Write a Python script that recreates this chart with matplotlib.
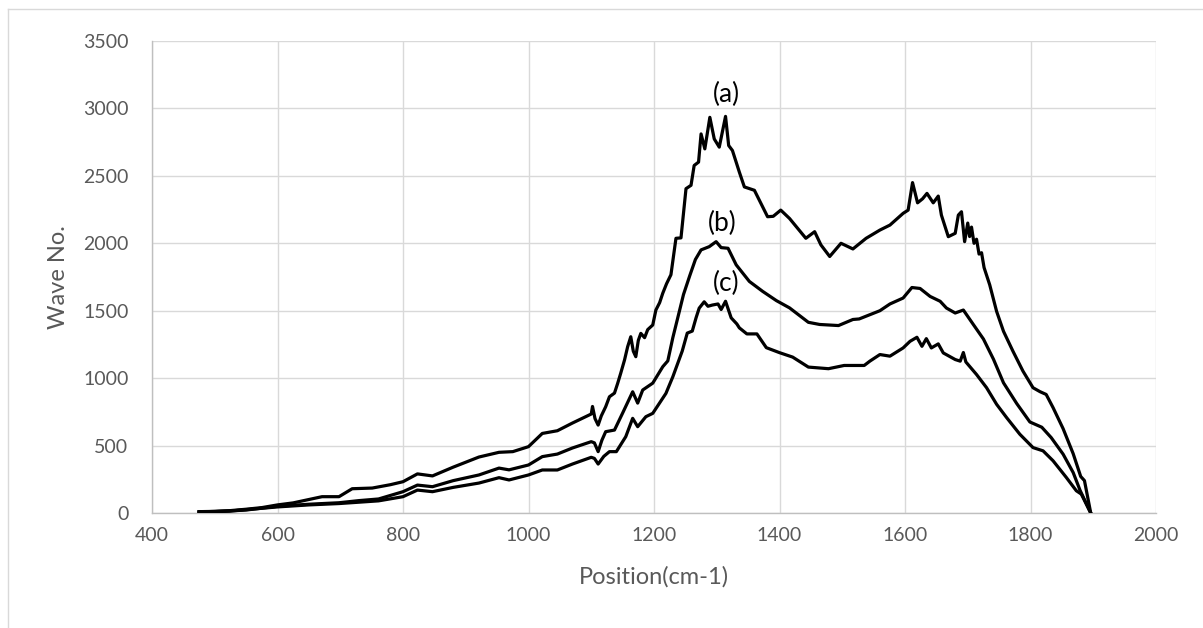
import matplotlib
matplotlib.use("Agg")
import matplotlib.pyplot as plt
from matplotlib.lines import Line2D

# ---------------- data ----------------
a_x = [475, 500, 523, 550, 575, 600, 625, 650, 671, 698, 719, 751, 780, 800, 823, 847, 880, 921, 953, 975,
       1000, 1022, 1046, 1070, 1100, 1102, 1106, 1111, 1116, 1123, 1129, 1137, 1142, 1147, 1153, 1158, 1163,
       1167, 1171, 1175, 1179, 1185, 1190, 1198, 1203, 1209, 1214, 1220, 1227, 1235, 1243, 1251, 1259, 1264,
       1271, 1275, 1281, 1289, 1296, 1304, 1314, 1319, 1325, 1336, 1344, 1360, 1381, 1390, 1402, 1416, 1442,
       1456, 1466, 1480, 1498, 1517, 1538, 1560, 1576, 1597, 1605, 1612, 1620, 1628, 1635, 1645, 1653, 1658,
       1669, 1680, 1685, 1690, 1695, 1700, 1703, 1706, 1710, 1714, 1718, 1722, 1726, 1735, 1746, 1757, 1772,
       1788, 1804, 1815, 1825, 1836, 1852, 1868, 1880, 1886, 1896]
a_y = [10, 12, 17, 28, 40, 60, 75, 100, 121, 121, 180, 185, 210, 232, 290, 275, 340, 415, 450, 455,
       492, 590, 610, 667, 734, 790, 700, 652, 720, 788, 862, 889, 960, 1037, 1134, 1233, 1307,
       1200, 1159, 1280, 1332, 1300, 1360, 1394, 1505, 1560, 1630, 1700, 1767, 2037, 2040, 2405, 2430, 2577,
       2602, 2811, 2700, 2934, 2774, 2713, 2941, 2725, 2688, 2528, 2418, 2393, 2197, 2200, 2246, 2184, 2037,
       2086, 1988, 1902, 2000, 1958, 2037, 2098, 2135, 2222, 2246, 2450, 2300, 2330, 2370, 2300, 2350, 2209,
       2049, 2074, 2209, 2234, 2012, 2150, 2050, 2120, 2000, 2030, 1920, 1930, 1820, 1692, 1495, 1347, 1200,
       1052, 929, 900, 879, 781, 625, 440, 271, 240, 0]

b_x = [475, 523, 550, 600, 650, 698, 730, 761, 800, 823, 847, 880, 921, 953, 969, 1000, 1022, 1046, 1070,
       1100, 1105, 1111, 1117, 1123, 1137, 1150, 1166, 1174, 1182, 1198, 1214, 1222, 1230, 1238, 1247, 1257,
       1266, 1275, 1288, 1299, 1307, 1318, 1331, 1352, 1373, 1395, 1416, 1446, 1464, 1494, 1517, 1527, 1560,
       1576, 1597, 1611, 1624, 1640, 1656, 1666, 1680, 1693, 1709, 1725, 1741, 1757, 1778, 1799, 1818, 1833,
       1852, 1868, 1879, 1896]
b_y = [8, 15, 22, 50, 65, 76, 92, 104, 158, 207, 195, 240, 282, 333, 320, 356, 418, 437, 482,
       529, 520, 455, 540, 603, 615, 741, 899, 815, 912, 963, 1085, 1128, 1300, 1450, 1620, 1760,
       1880, 1951, 1975, 2012, 1968, 1963, 1840, 1717, 1644, 1575, 1521, 1414, 1398, 1390, 1435, 1439, 1500,
       1550, 1594, 1672, 1665, 1606, 1570, 1520, 1483, 1505, 1397, 1290, 1140, 965, 812, 675, 636, 559,
       436, 300, 168, 0]

c_x = [475, 523, 600, 650, 698, 761, 800, 823, 847, 880, 921, 953, 969, 1000, 1022, 1046, 1070, 1100, 1105,
       1111, 1120, 1129, 1140, 1155, 1166, 1174, 1187, 1198, 1219, 1230, 1245, 1253, 1261, 1267, 1272, 1280,
       1286, 1293, 1302, 1307, 1314, 1323, 1332, 1336, 1348, 1364, 1379, 1400, 1421, 1446, 1478, 1503, 1535,
       1544, 1560, 1576, 1597, 1608, 1619, 1627, 1634, 1642, 1653, 1661, 1680, 1688, 1693, 1697, 1714, 1730,
       1746, 1762, 1783, 1804, 1820, 1836, 1857, 1873, 1881, 1896]
c_y = [6, 14, 45, 60, 70, 90, 121, 170, 158, 190, 222, 262, 245, 282, 319, 319, 363, 413, 405,
       363, 420, 455, 455, 566, 702, 640, 714, 739, 887, 1010, 1201, 1334, 1349, 1447, 1519, 1566,
       1533, 1542, 1550, 1509, 1570, 1447, 1402, 1373, 1328, 1328, 1226, 1189, 1156, 1082, 1070, 1094, 1094,
       1126, 1175, 1163, 1224, 1273, 1303, 1236, 1293, 1224, 1254, 1187, 1138, 1126, 1190, 1120, 1027, 929,
       806, 707, 584, 485, 461, 387, 264, 165, 140, 0]

series_labels = ["(a)", "(b)", "(c)"]
label_x = [1315, 1309, 1315]
label_y = [3100, 2150, 1700]

x_ticks = [400, 600, 800, 1000, 1200, 1400, 1600, 1800, 2000]
y_ticks = [0, 500, 1000, 1500, 2000, 2500, 3000, 3500]
x_title = "Position(cm-1)"
y_title = "Wave No."

# ---------------- figure ----------------
W, H = 1203, 628
fig = plt.figure(figsize=(W / 100, H / 100), dpi=100)
fig.patch.set_facecolor("white")
plt.rcParams['font.family'] = ['Lato', 'DejaVu Sans']

ax = fig.add_axes([152 / W, 1 - 513 / H, (1156 - 152) / W, (513 - 41) / H])
ax.set_xlim(400, 2000)
ax.set_ylim(0, 3500)
ax.set_xticks(x_ticks)
ax.set_yticks(y_ticks)
ax.grid(True, color="#d9d9d9", linewidth=1.0)
ax.set_axisbelow(True)
for s in ["top", "right"]:
    ax.spines[s].set_visible(False)
for s in ["left", "bottom"]:
    ax.spines[s].set_color("#bfbfbf")
    ax.spines[s].set_linewidth(1.0)
ax.tick_params(length=0, labelsize=14, labelcolor="#595959")
ax.tick_params(axis="y", pad=17)
ax.tick_params(axis="x", pad=10)

for xs, ys in [(a_x, a_y), (b_x, b_y), (c_x, c_y)]:
    ax.plot(xs, ys, color="black", linewidth=2.3, solid_joinstyle="round", zorder=3)

for t, lx, ly in zip(series_labels, label_x, label_y):
    ax.text(lx, ly, t, ha="center", va="center", fontsize=19, color="black", zorder=4)

ax.set_xlabel(x_title, fontsize=17, color="#595959", labelpad=16)
ax.set_ylabel(y_title, fontsize=17, color="#595959", labelpad=10)

# chart-area border (clipped at right/bottom as in reference)
fig.add_artist(Line2D([8 / W, 8 / W], [0, 1 - 9 / H], color="#d9d9d9", linewidth=1.0, transform=fig.transFigure))
fig.add_artist(Line2D([8 / W, 1], [1 - 9 / H, 1 - 9 / H], color="#d9d9d9", linewidth=1.0, transform=fig.transFigure))

fig.savefig("out.png", dpi=100, facecolor="white")
